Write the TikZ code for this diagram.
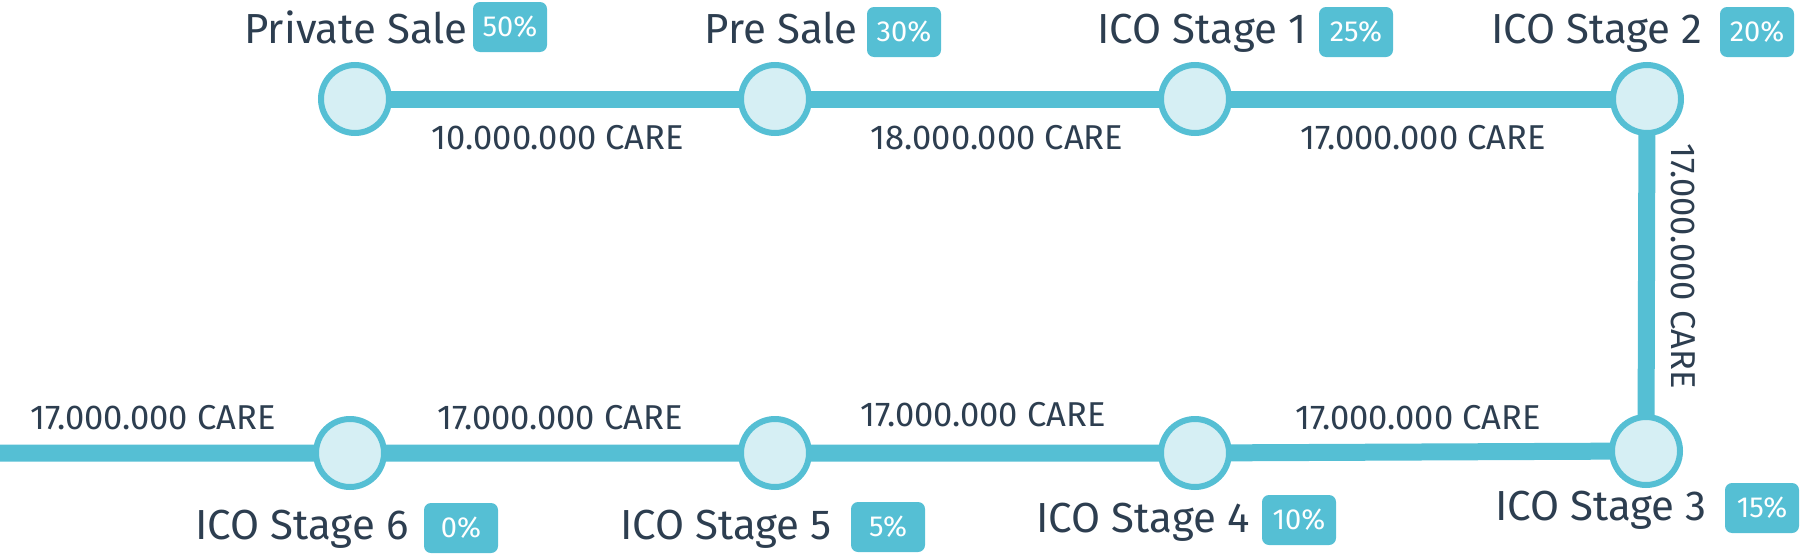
\documentclass[tikz,border=0pt]{standalone}
\usepackage{fontspec}
\setmainfont{Fira Sans}
\usetikzlibrary{backgrounds}
\definecolor{cyanline}{HTML}{55BFD4}
\definecolor{cyanfill}{HTML}{D6EFF4}
\definecolor{darktext}{HTML}{2D3E50}
\tikzset{
  stagedot/.style={circle, draw=cyanline, line width=6pt, fill=cyanfill, minimum size=68pt, inner sep=0pt},
  track/.style={draw=cyanline, line width=17pt},
  stagename/.style={anchor=base, text=darktext, inner sep=0pt, font=\fontsize{42}{50}\selectfont},
  amount/.style={anchor=base, text=darktext, inner sep=0pt, font=\fontsize{34.5}{40}\selectfont},
  badge/.style={fill=cyanline, rounded corners=7pt, minimum width=74pt, minimum height=50pt, inner sep=0pt, text=white, font=\fontsize{29}{32}\selectfont}
}
\begin{document}
\begin{tikzpicture}[x=1pt,y=-1pt]
\useasboundingbox (0,0) rectangle (1800,554);
% stage dots
\node[stagedot] (ps) at (355,99) {};
\node[stagedot] (pre) at (775,99) {};
\node[stagedot] (s1) at (1195,99) {};
\node[stagedot] (s2) at (1647,99) {};
\node[stagedot] (s3) at (1646,451) {};
\node[stagedot] (s4) at (1195,453) {};
\node[stagedot] (s5) at (775,453) {};
\node[stagedot] (s6) at (350,453) {};
\coordinate (start) at (0,453);
% track
\begin{pgfonlayer}{background}
\draw[track] (ps.center) -- (pre.center) -- (s1.center) -- (s2.center);
\draw[track] (s2.center) -- (s3.center);
\draw[track] (s3.center) -- (s4.center) -- (s5.center) -- (s6.center) -- (start);
\end{pgfonlayer}
% stage names and badges (top)
\node[stagename] (lps) at (356,43) {Private Sale};
\node[badge] (bps) at (510,27) {50\%};
\node[stagename] (lpre) at (781,43) {Pre Sale};
\node[badge] (bpre) at (904,32) {30\%};
\node[stagename] (ls1) at (1202,43) {ICO Stage 1};
\node[badge] (bs1) at (1356,32) {25\%};
\node[stagename] (ls2) at (1597,43) {ICO Stage 2};
\node[badge] (bs2) at (1757,32) {20\%};
% stage names and badges (bottom)
\node[stagename] (ls6) at (302,539) {ICO Stage 6};
\node[badge] (bs6) at (461,528) {0\%};
\node[stagename] (ls5) at (726,539) {ICO Stage 5};
\node[badge] (bs5) at (888,527) {5\%};
\node[stagename] (ls4) at (1143,532) {ICO Stage 4};
\node[badge] (bs4) at (1299,520) {10\%};
\node[stagename] (ls3) at (1601,520) {ICO Stage 3};
\node[badge] (bs3) at (1762,508) {15\%};
% amounts
\node[amount] (a1) at (558,149) {10.000.000 CARE};
\node[amount] (a2) at (997,149) {18.000.000 CARE};
\node[amount] (a3) at (1423,149) {17.000.000 CARE};
\node[amount, rotate=-90, anchor=base west] (a4) at (1671,143) {17.000.000 CARE};
\node[amount] (a5) at (1418,429) {17.000.000 CARE};
\node[amount] (a6) at (983,426) {17.000.000 CARE};
\node[amount] (a7) at (560,429) {17.000.000 CARE};
\node[amount] (a8) at (153,429) {17.000.000 CARE};
\end{tikzpicture}
\end{document}
